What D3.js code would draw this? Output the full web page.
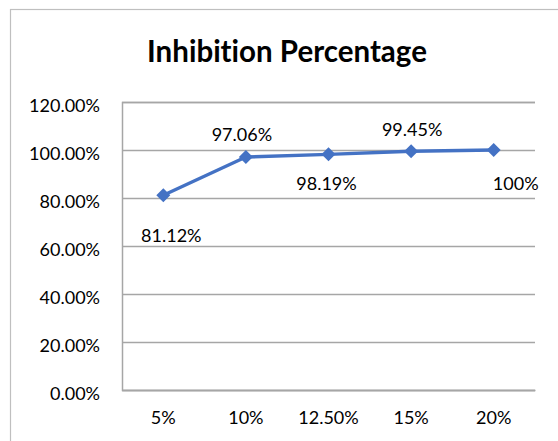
<!DOCTYPE html>
<html><head><meta charset="utf-8">
<script src="https://cdn.jsdelivr.net/npm/d3@7"></script>
<style>body{margin:0;background:#fff}svg{display:block}text{font-variant-ligatures:none;font-feature-settings:"liga" 0,"clig" 0}</style>
</head><body>
<script>
const categories = ["5%", "10%", "12.50%", "15%", "20%"];
const values = [0.8112, 0.9706, 0.9819, 0.9945, 1.0];
const valueLabels = ["81.12%", "97.06%", "98.19%", "99.45%", "100%"];
const yTicks = [0, 0.2, 0.4, 0.6, 0.8, 1.0, 1.2];
const title = "Inhibition Percentage";
// label placement relative to point (px)
const labelOffsets = [[8, 40], [-4, -22], [-2, 29], [1, -22], [22, 34]];

const W = 558, H = 441;
const font = "Lato, 'Open Sans', sans-serif";
const svg = d3.select("body").append("svg").attr("width", W).attr("height", H);

svg.append("rect").attr("x", 10.5).attr("y", 9.5).attr("width", 600).attr("height", 500)
  .attr("fill", "#fff").attr("stroke", "#bfbfbf").attr("stroke-width", 1.2);

const m = {left: 122, right: 535, top: 102, bottom: 390};
const x = d3.scaleBand().domain(categories).range([m.left, m.right]);
const y = d3.scaleLinear().domain([0, 1.2]).range([m.bottom, m.top]);

svg.append("text").attr("x", 287).attr("y", 62).attr("text-anchor", "middle")
  .attr("font-family", font).attr("font-weight", "bold").attr("font-size", 29.5)
  .attr("fill", "#000").text(title);

const yAxis = d3.axisLeft(y).tickValues(yTicks).tickSize(-(m.right - m.left)).tickPadding(22)
  .tickFormat(d => (d * 100).toFixed(2) + "%");
const gy = svg.append("g").attr("transform", `translate(${m.left},0)`).call(yAxis);
gy.select(".domain").attr("stroke", "#a6a6a6").attr("stroke-width", 1.5);
gy.selectAll(".tick line").attr("stroke", "#a6a6a6").attr("stroke-width", 1.5);
gy.selectAll(".tick text").attr("font-family", font).attr("font-size", 18).attr("fill", "#000").attr("dy", "0.5em");

const xAxis = d3.axisBottom(x).tickSize(0).tickPadding(21);
const gx = svg.append("g").attr("transform", `translate(0,${m.bottom})`).call(xAxis);
gx.select(".domain").attr("stroke", "#a6a6a6").attr("stroke-width", 1.5);
gx.selectAll(".tick text").attr("font-family", font).attr("font-size", 18).attr("fill", "#000");

const pts = categories.map((c, i) => [x(c) + x.bandwidth() / 2, y(values[i])]);
svg.append("path").attr("d", d3.line()(pts)).attr("fill", "none")
  .attr("stroke", "#4472C4").attr("stroke-width", 3.4).attr("stroke-linejoin", "round");

svg.selectAll(".mk").data(pts).join("path")
  .attr("d", d3.symbol().type(d3.symbolDiamond2).size(125))
  .attr("transform", d => `translate(${d[0]},${d[1]})`)
  .attr("fill", "#4472C4");

svg.selectAll(".lbl").data(pts).join("text")
  .attr("x", (d, i) => d[0] + labelOffsets[i][0])
  .attr("y", (d, i) => d[1] + labelOffsets[i][1])
  .attr("dy", "0.35em").attr("text-anchor", "middle")
  .attr("font-family", font).attr("font-size", 18).attr("fill", "#000")
  .text((d, i) => valueLabels[i]);
</script>
</body></html>
